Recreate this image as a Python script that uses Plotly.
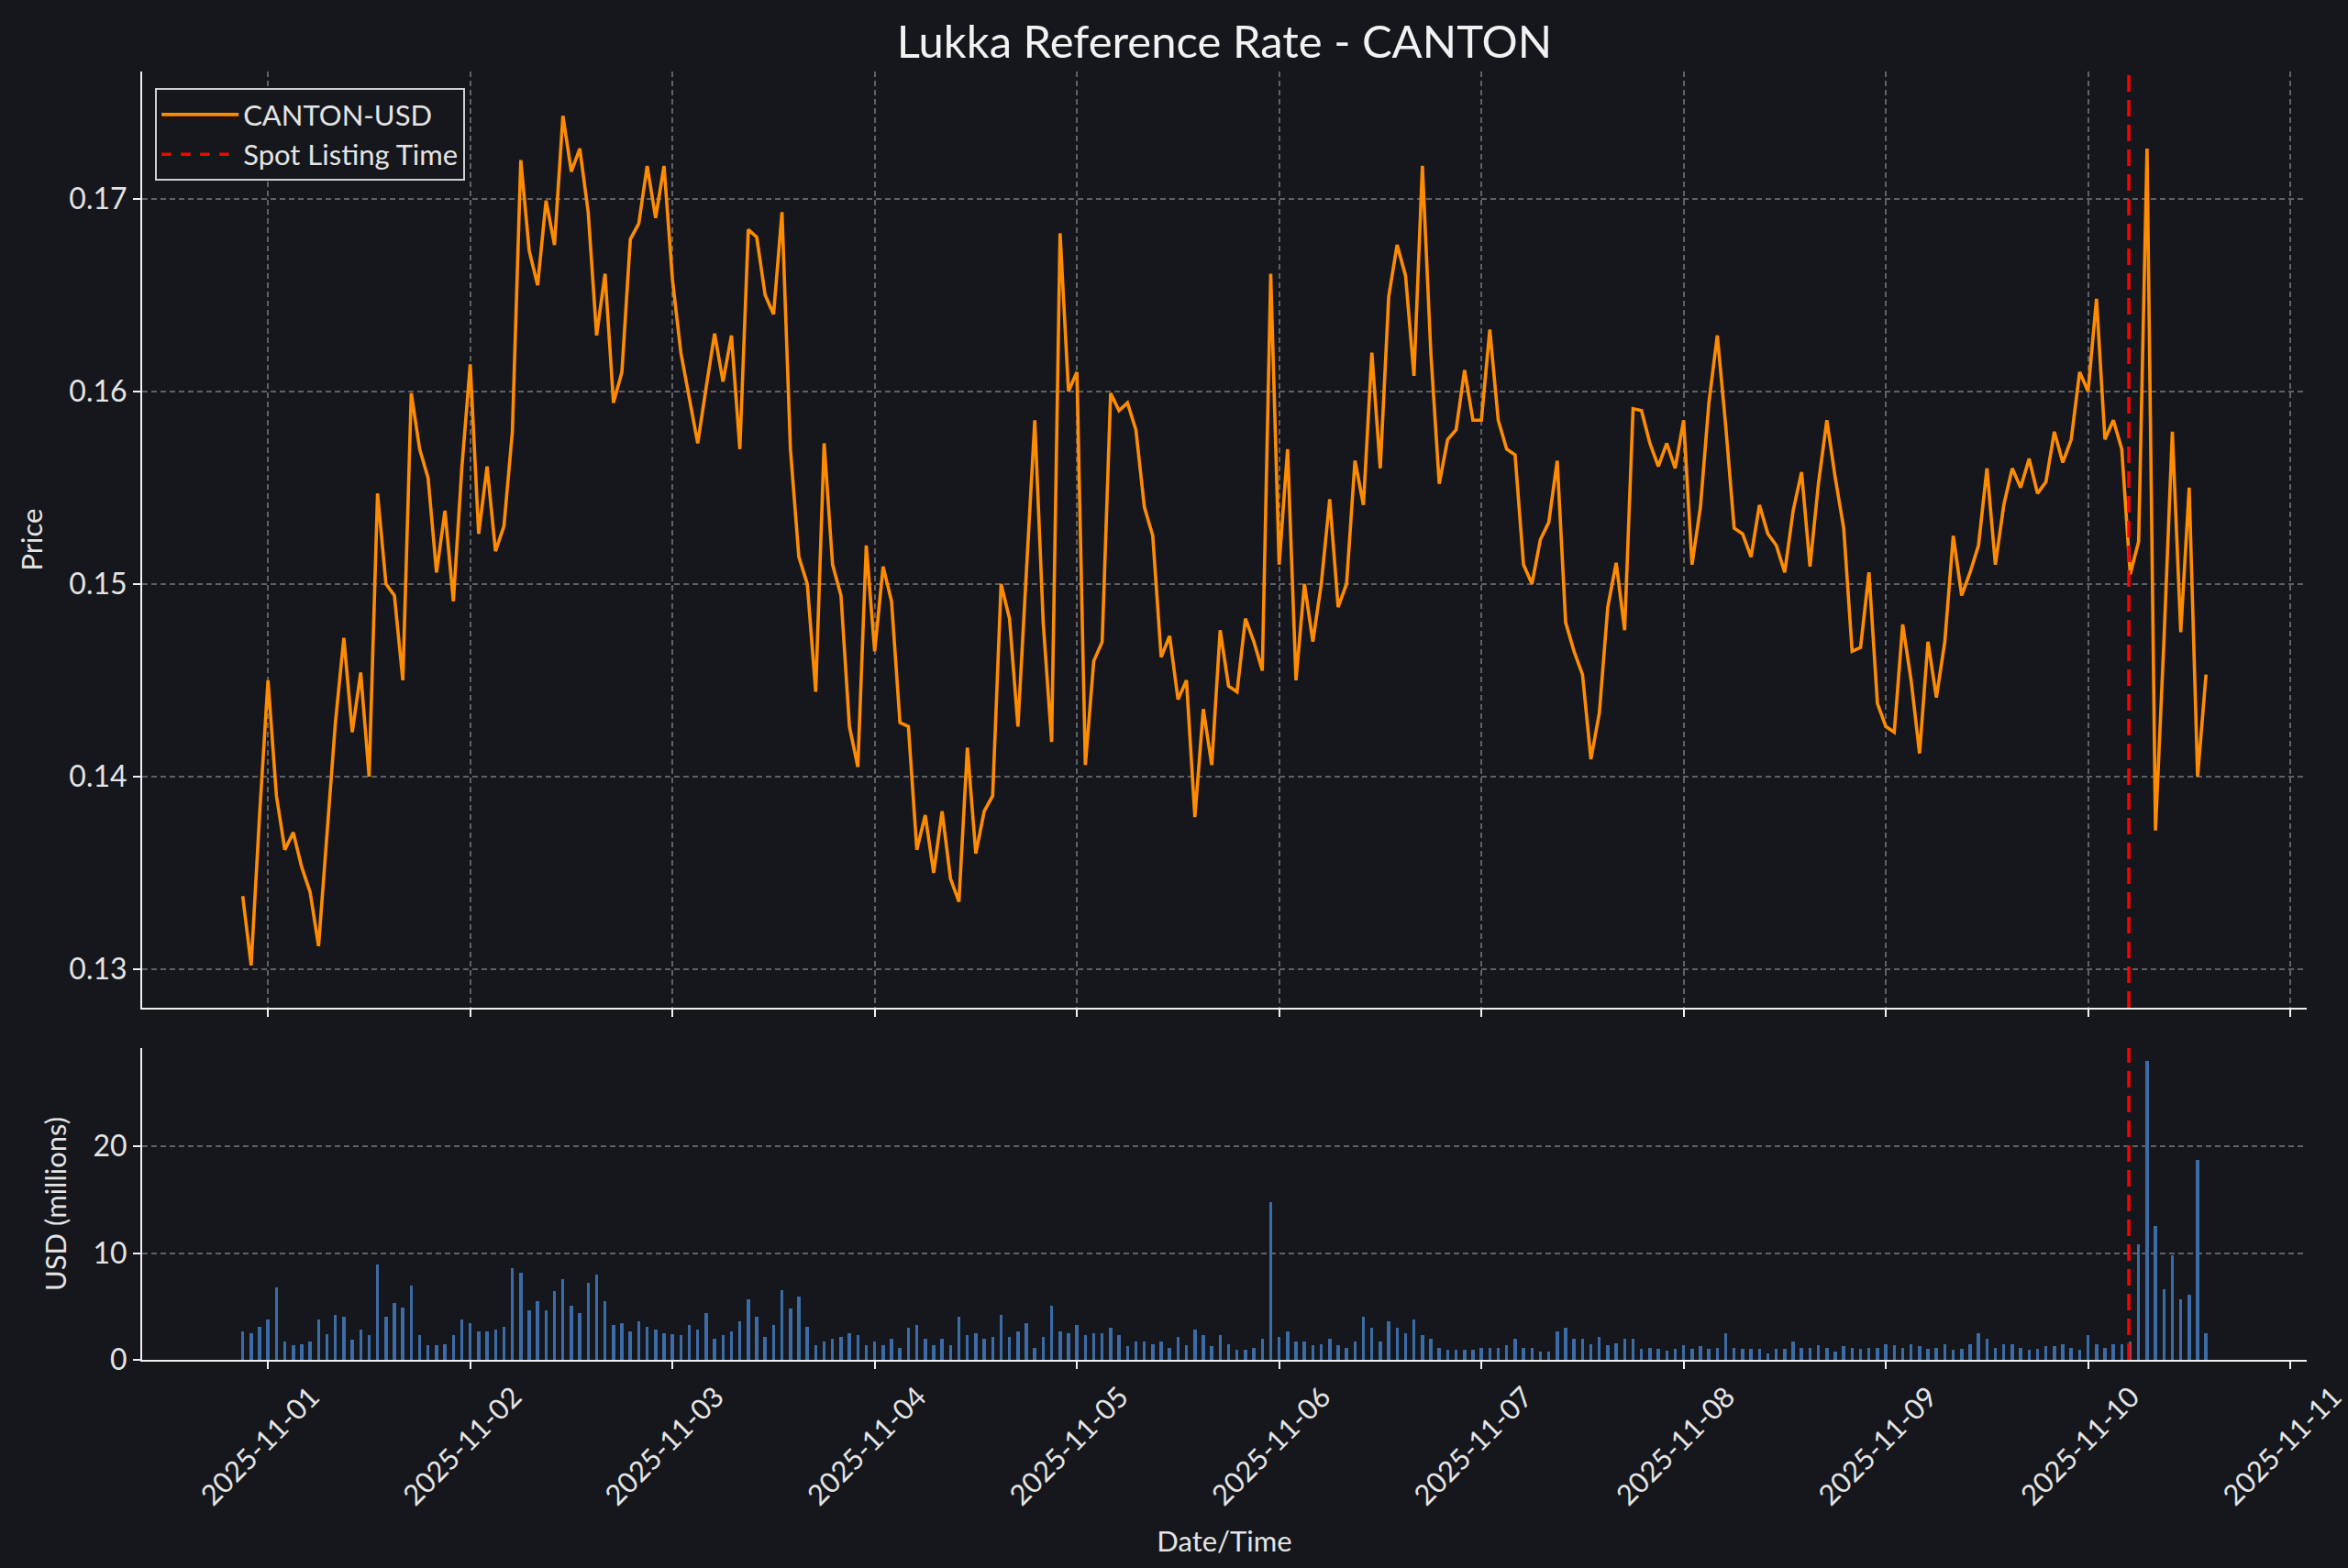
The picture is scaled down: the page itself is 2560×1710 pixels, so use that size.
import pandas as pd
import plotly.graph_objects as go
from plotly.subplots import make_subplots

# ---------------- data (hourly) ----------------
START = "2025-10-31 21:00"
FREQ = "1h"
LISTING_TIME = "2025-11-10 04:50"
SERIES_NAME = "CANTON-USD"
LISTING_NAME = "Spot Listing Time"
TITLE = "Lukka Reference Rate - CANTON"

price = [
    # 10-31 21:00 .. 23:00
    0.1338, 0.1302, 0.1380,
    # 11-01
    0.1450, 0.1390, 0.1362, 0.1371, 0.1353, 0.1340, 0.1312, 0.1370, 0.1428, 0.1472, 0.1423, 0.1454,
    0.1400, 0.1547, 0.1500, 0.1494, 0.1450, 0.1599, 0.1570, 0.1555, 0.1506, 0.1538, 0.1491, 0.1560,
    # 11-02
    0.1614, 0.1526, 0.1561, 0.1517, 0.1530, 0.1579, 0.1720, 0.1673, 0.1655, 0.1699, 0.1676, 0.1743,
    0.1714, 0.1726, 0.1693, 0.1629, 0.1661, 0.1594, 0.1610, 0.1679, 0.1687, 0.1717, 0.1690, 0.1717,
    # 11-03
    0.1658, 0.1620, 0.1596, 0.1573, 0.1602, 0.1630, 0.1605, 0.1629, 0.1570, 0.1684, 0.1680, 0.1650,
    0.1640, 0.1693, 0.1570, 0.1514, 0.1500, 0.1444, 0.1573, 0.1510, 0.1494, 0.1426, 0.1405, 0.1520,
    # 11-04
    0.1465, 0.1509, 0.1491, 0.1428, 0.1426, 0.1362, 0.1380, 0.1350, 0.1382, 0.1347, 0.1335, 0.1415,
    0.1360, 0.1382, 0.1390, 0.1500, 0.1482, 0.1426, 0.1506, 0.1585, 0.1480, 0.1418, 0.1682, 0.1600,
    # 11-05
    0.1610, 0.1406, 0.1460, 0.1470, 0.1599, 0.1590, 0.1594, 0.1580, 0.1540, 0.1525, 0.1462, 0.1473,
    0.1440, 0.1450, 0.1379, 0.1435, 0.1406, 0.1476, 0.1447, 0.1444, 0.1482, 0.1470, 0.1455, 0.1661,
    # 11-06
    0.1510, 0.1570, 0.1450, 0.1500, 0.1470, 0.1500, 0.1544, 0.1488, 0.1500, 0.1564, 0.1541, 0.1620,
    0.1560, 0.1649, 0.1676, 0.1660, 0.1608, 0.1717, 0.1620, 0.1552, 0.1575, 0.1580, 0.1611, 0.1585,
    # 11-07
    0.1585, 0.1632, 0.1585, 0.1570, 0.1567, 0.1510, 0.1500, 0.1523, 0.1532, 0.1564, 0.1480, 0.1465,
    0.1453, 0.1409, 0.1433, 0.1488, 0.1511, 0.1476, 0.1591, 0.1590, 0.1573, 0.1561, 0.1573, 0.1560,
    # 11-08
    0.1585, 0.1510, 0.1540, 0.1594, 0.1629, 0.1582, 0.1529, 0.1526, 0.1514, 0.1541, 0.1526, 0.1520,
    0.1506, 0.1538, 0.1558, 0.1509, 0.1552, 0.1585, 0.1555, 0.1529, 0.1465, 0.1467, 0.1506, 0.1438,
    # 11-09
    0.1426, 0.1423, 0.1479, 0.1450, 0.1412, 0.1470, 0.1441, 0.1470, 0.1525, 0.1494, 0.1506, 0.1520,
    0.1560, 0.1510, 0.1541, 0.1560, 0.1550, 0.1565, 0.1547, 0.1553, 0.1579, 0.1563, 0.1575, 0.1610,
    # 11-10 00:00 .. 14:00
    0.1600, 0.1648, 0.1575, 0.1585, 0.1570, 0.1505, 0.1522, 0.1726, 0.1372, 0.1470, 0.1579, 0.1475,
    0.1550, 0.1400, 0.1453,
]

volume_musd = [
    # 10-31 21:00 .. 23:00
    2.67, 2.5, 3.1,
    # 11-01
    3.8, 6.8, 1.75, 1.36, 1.5, 1.75, 3.8, 2.4, 4.2, 4.0, 1.9, 2.8,
    2.3, 8.96, 4.0, 5.3, 4.9, 7.0, 2.3, 1.36, 1.36, 1.5, 2.3, 3.8,
    # 11-02
    3.45, 2.67, 2.67, 2.8, 3.1, 8.55, 8.17, 4.6, 5.5, 4.6, 6.4, 7.6,
    5.1, 4.4, 7.25, 8.0, 5.5, 3.25, 3.45, 2.67, 3.6, 3.1, 2.87, 2.46,
    # 11-03
    2.4, 2.3, 3.25, 2.87, 4.4, 1.94, 2.3, 2.67, 3.6, 5.7, 4.0, 2.14,
    3.25, 6.5, 4.8, 5.9, 3.1, 1.36, 1.75, 1.94, 2.14, 2.46, 2.3, 1.36,
    # 11-04
    1.75, 1.36, 1.94, 1.1, 3.0, 3.25, 1.94, 1.36, 1.94, 1.36, 4.0, 2.3,
    2.5, 1.94, 2.14, 4.2, 2.14, 2.67, 3.45, 1.1, 2.14, 5.1, 2.67, 2.46,
    # 11-05
    3.25, 2.3, 2.46, 2.46, 3.0, 2.3, 1.3, 1.75, 1.75, 1.5, 1.75, 1.1,
    2.14, 1.36, 2.87, 2.3, 1.3, 2.3, 1.5, 0.93, 0.93, 1.1, 1.94, 14.8,
    # 11-06
    2.14, 2.67, 1.75, 1.75, 1.36, 1.5, 1.94, 1.36, 1.1, 1.75, 4.0, 3.0,
    1.75, 3.6, 3.0, 2.46, 3.8, 2.3, 1.94, 1.1, 0.93, 0.93, 0.93, 0.93,
    # 11-07
    1.1, 1.1, 1.1, 1.36, 1.94, 1.1, 1.1, 0.78, 0.78, 2.67, 3.0, 1.94,
    1.94, 1.5, 2.14, 1.36, 1.56, 1.94, 1.94, 1.0, 1.1, 1.0, 0.84, 1.0,
    # 11-08
    1.36, 1.0, 1.3, 1.0, 1.1, 2.46, 1.1, 1.0, 1.0, 1.0, 0.64, 1.0,
    1.0, 1.75, 1.1, 1.1, 1.36, 1.1, 0.78, 1.3, 1.1, 1.0, 1.1, 1.1,
    # 11-09
    1.5, 1.36, 1.1, 1.5, 1.3, 1.0, 1.1, 1.5, 0.93, 1.0, 1.5, 2.46,
    1.94, 1.1, 1.5, 1.5, 1.1, 0.93, 1.0, 1.3, 1.3, 1.5, 1.1, 0.93,
    # 11-10 00:00 .. 14:00
    2.3, 1.5, 1.1, 1.5, 1.5, 1.75, 10.8, 28.0, 12.5, 6.6, 9.8, 5.7,
    6.1, 18.75, 2.46,
]

times = pd.date_range(START, periods=len(price), freq=FREQ)

# ---------------- styling ----------------
BG = "#15171c"
TXT = "#e4e4e4"
ORANGE = "#ff8c00"
BAR = "#3c6ca6"
GRID = "rgba(200,200,200,0.42)"
FONT = "Lato"

fig = make_subplots(rows=2, cols=1, shared_xaxes=True)

fig.add_trace(go.Scatter(x=times, y=price, mode="lines", name=SERIES_NAME,
                         line=dict(color=ORANGE, width=3.6)), row=1, col=1)
fig.add_trace(go.Scatter(x=[None], y=[None], mode="lines", name=LISTING_NAME,
                         line=dict(color="#ff0000", width=3.5, dash="dash")), row=1, col=1)
fig.add_trace(go.Bar(x=times, y=volume_musd, showlegend=False,
                     marker=dict(color=BAR, line=dict(width=0)),
                     width=0.38 * 3600 * 1000), row=2, col=1)

for xr, yr in (("x", "y domain"), ("x2", "y2 domain")):
    fig.add_shape(type="line", xref=xr, yref=yr, x0=LISTING_TIME, x1=LISTING_TIME,
                  y0=0, y1=1, line=dict(color="#ff0000", width=3.5, dash="18px,9px"),
                  layer="above")

axis_common = dict(showline=True, linecolor="#f0f0f0", linewidth=2, mirror=False,
                   ticks="outside", ticklen=8, tickwidth=2, tickcolor="#f0f0f0",
                   tickfont=dict(family=FONT, size=32, color=TXT), zeroline=False,
                   automargin=False)

xrange = ["2025-10-31 09:04", "2025-11-11 01:57"]

fig.update_xaxes(**axis_common, range=xrange, type="date", tick0="2025-11-01",
                 dtick=86400000, tickformat="%Y-%m-%d")
fig.update_xaxes(showgrid=True, gridcolor=GRID, gridwidth=1.5, griddash="6px,4px",
                 showticklabels=False, row=1, col=1)
fig.update_xaxes(showgrid=False, showticklabels=True, tickangle=-45, ticklabelshift=47,
                 ticklabeloverflow="allow", tickfont=dict(family=FONT, size=31, color=TXT),
                 title=dict(text="Date/Time", font=dict(family=FONT, size=31, color=TXT),
                            standoff=23), row=2, col=1)

fig.update_yaxes(**axis_common, showgrid=True, gridcolor=GRID, gridwidth=1.5,
                 griddash="6px,4px")
fig.update_yaxes(range=[0.1280, 0.1766], tick0=0.13, dtick=0.01, tickformat=".2f",
                 title=dict(text="Price", font=dict(family=FONT, size=31, color=TXT),
                            standoff=20), row=1, col=1)
fig.update_yaxes(range=[0, 29.2], tick0=0, dtick=10,
                 title=dict(text="USD (millions)", font=dict(family=FONT, size=31, color=TXT),
                            standoff=20), row=2, col=1)

fig.update_layout(
    width=2560, height=1710,
    paper_bgcolor=BG, plot_bgcolor=BG,
    margin=dict(l=155, r=45, t=78, b=227, autoexpand=False),
    xaxis=dict(domain=[0, 1]),
    yaxis=dict(domain=[0.2733, 1.0]),
    yaxis2=dict(domain=[0.0, 0.242]),
    bargap=0,
    title=dict(text=TITLE, x=0.5, xref="paper", xanchor="center",
               y=1 - 46 / 1710, yref="container", yanchor="middle",
               font=dict(family=FONT, size=49, color="#f2f2f2")),
    legend=dict(x=0.006, y=0.987, xanchor="left", yanchor="top",
                bgcolor=BG, bordercolor="#cfcfcf", borderwidth=2,
                font=dict(family=FONT, size=31, color=TXT),
                itemwidth=84, tracegroupgap=4),
    showlegend=True,
)

fig.write_html(
    "out.html",
    config={"displayModeBar": False},
    post_script="document.body.style.margin='0';document.body.style.background='%s';" % BG,
)
